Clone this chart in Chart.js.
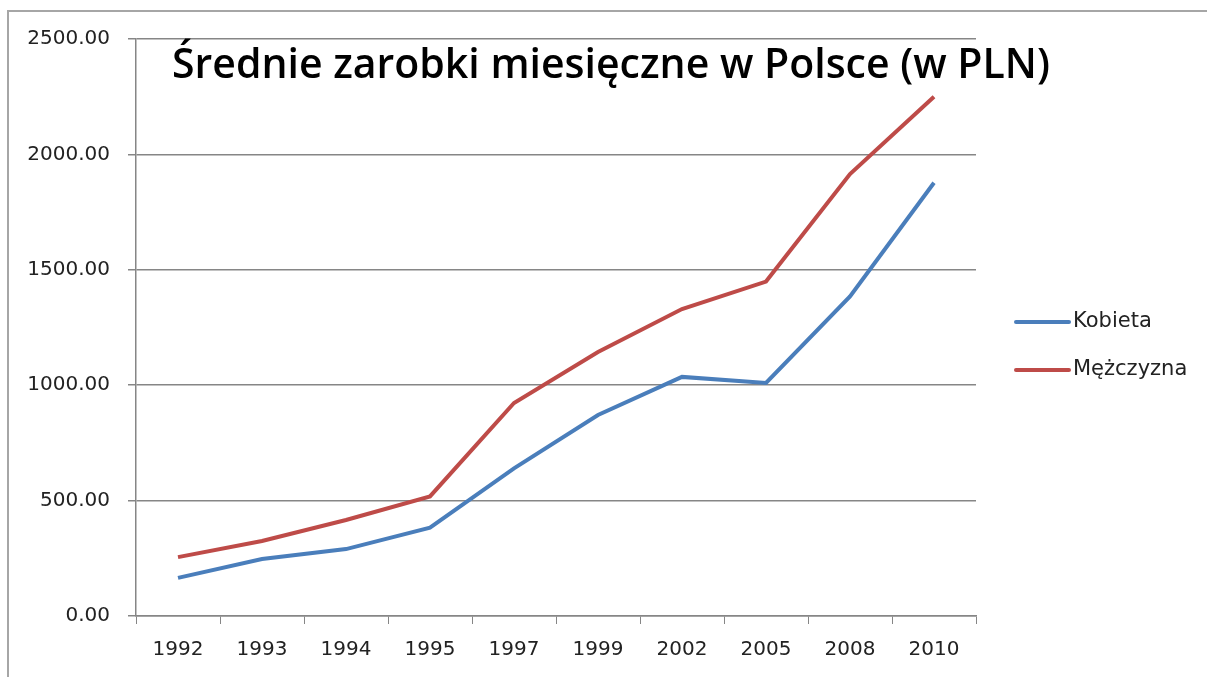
<!DOCTYPE html>
<html lang="pl">
<head>
    <meta charset="UTF-8">
    <title>Średnie zarobki miesięczne w Polsce</title>
    <style>
        html, body {
            margin: 0;
            padding: 0;
            background: #ffffff;
        }

        .chart-container {
            width: 1207px;
            height: 677px;
        }
    </style>
</head>
<body>
    <div class="chart-container">
        <canvas id="wageChart"></canvas>
    </div>

    <script src="https://cdn.jsdelivr.net/npm/chart.js"></script>
    <script>
        const years = ['1992', '1993', '1994', '1995', '1997', '1999', '2002', '2005', '2008', '2010'];
        const kobieta = [165, 247, 290, 383, 640, 871, 1036, 1010, 1385, 1877];
        const mezczyzna = [255, 325, 416, 518, 923, 1144, 1330, 1449, 1915, 2250];
        const yTicks = [0, 500, 1000, 1500, 2000, 2500];

        const chartTitle = 'Średnie zarobki miesięczne w Polsce (w PLN)';
        const gridColor = '#868686';
        const labelColor = '#222222';

        // outer frame of the chart object
        const framePlugin = {
            id: 'frame',
            beforeDraw(chart) {
                const ctx = chart.ctx;
                ctx.save();
                ctx.fillStyle = '#ffffff';
                ctx.fillRect(0, 0, chart.width, chart.height);
                ctx.strokeStyle = '#a6a6a6';
                ctx.lineWidth = 2;
                ctx.beginPath();
                ctx.moveTo(8, chart.height + 2);
                ctx.lineTo(8, 11);
                ctx.lineTo(chart.width + 2, 11);
                ctx.stroke();
                ctx.restore();
            }
        };

        // title sits inside the plot area, over the grid
        const titlePlugin = {
            id: 'innerTitle',
            afterDraw(chart) {
                const ctx = chart.ctx;
                ctx.save();
                ctx.font = '600 41px "Open Sans", sans-serif';
                ctx.fillStyle = '#000000';
                ctx.textAlign = 'center';
                ctx.textBaseline = 'alphabetic';
                ctx.fillText(chartTitle, 611, 78);
                ctx.restore();
            }
        };

        // legend on the right, Excel style
        const legendPlugin = {
            id: 'sideLegend',
            afterDraw(chart) {
                const ctx = chart.ctx;
                const rows = [322, 370];
                ctx.save();
                ctx.font = '21px "DejaVu Sans", sans-serif';
                ctx.textBaseline = 'middle';
                chart.data.datasets.forEach((ds, i) => {
                    const y = rows[i];
                    ctx.strokeStyle = ds.borderColor;
                    ctx.lineWidth = 4;
                    ctx.lineCap = 'round';
                    ctx.beginPath();
                    ctx.moveTo(1016, y);
                    ctx.lineTo(1069, y);
                    ctx.stroke();
                    ctx.fillStyle = labelColor;
                    ctx.fillText(ds.label, 1073, y);
                });
                ctx.restore();
            }
        };

        const ctx = document.getElementById('wageChart').getContext('2d');

        new Chart(ctx, {
            type: 'line',
            data: {
                labels: years,
                datasets: [{
                    label: 'Kobieta',
                    data: kobieta,
                    borderColor: '#4a7ebb',
                    borderWidth: 4,
                    pointRadius: 0,
                    tension: 0,
                    fill: false
                }, {
                    label: 'Mężczyzna',
                    data: mezczyzna,
                    borderColor: '#be4b48',
                    borderWidth: 4,
                    pointRadius: 0,
                    tension: 0,
                    fill: false
                }]
            },
            options: {
                responsive: true,
                maintainAspectRatio: false,
                animation: false,
                layout: {
                    padding: { left: 0, right: 231, top: 39, bottom: 0 }
                },
                plugins: {
                    legend: { display: false },
                    title: { display: false },
                    tooltip: { enabled: false }
                },
                scales: {
                    x: {
                        offset: true,
                        grid: {
                            offset: true,
                            drawOnChartArea: false,
                            drawTicks: true,
                            tickLength: 8,
                            color: gridColor
                        },
                        border: { color: gridColor, width: 1.5 },
                        ticks: {
                            color: labelColor,
                            padding: 14,
                            maxRotation: 0,
                            font: { family: 'DejaVu Sans', size: 20 }
                        },
                        afterFit(scale) {
                            scale.height = 61;
                        }
                    },
                    y: {
                        min: 0,
                        max: 2500,
                        afterBuildTicks(scale) {
                            scale.ticks = yTicks.map(v => ({ value: v }));
                        },
                        grid: {
                            color: gridColor,
                            tickLength: 8,
                            lineWidth: 1.5
                        },
                        border: { color: gridColor, width: 1.5 },
                        ticks: {
                            color: labelColor,
                            padding: 18,
                            font: { family: 'DejaVu Sans', size: 20 },
                            callback: value => Number(value).toFixed(2)
                        },
                        afterFit(scale) {
                            scale.width = 136;
                        }
                    }
                }
            },
            plugins: [framePlugin, titlePlugin, legendPlugin]
        });
    </script>
</body>
</html>
